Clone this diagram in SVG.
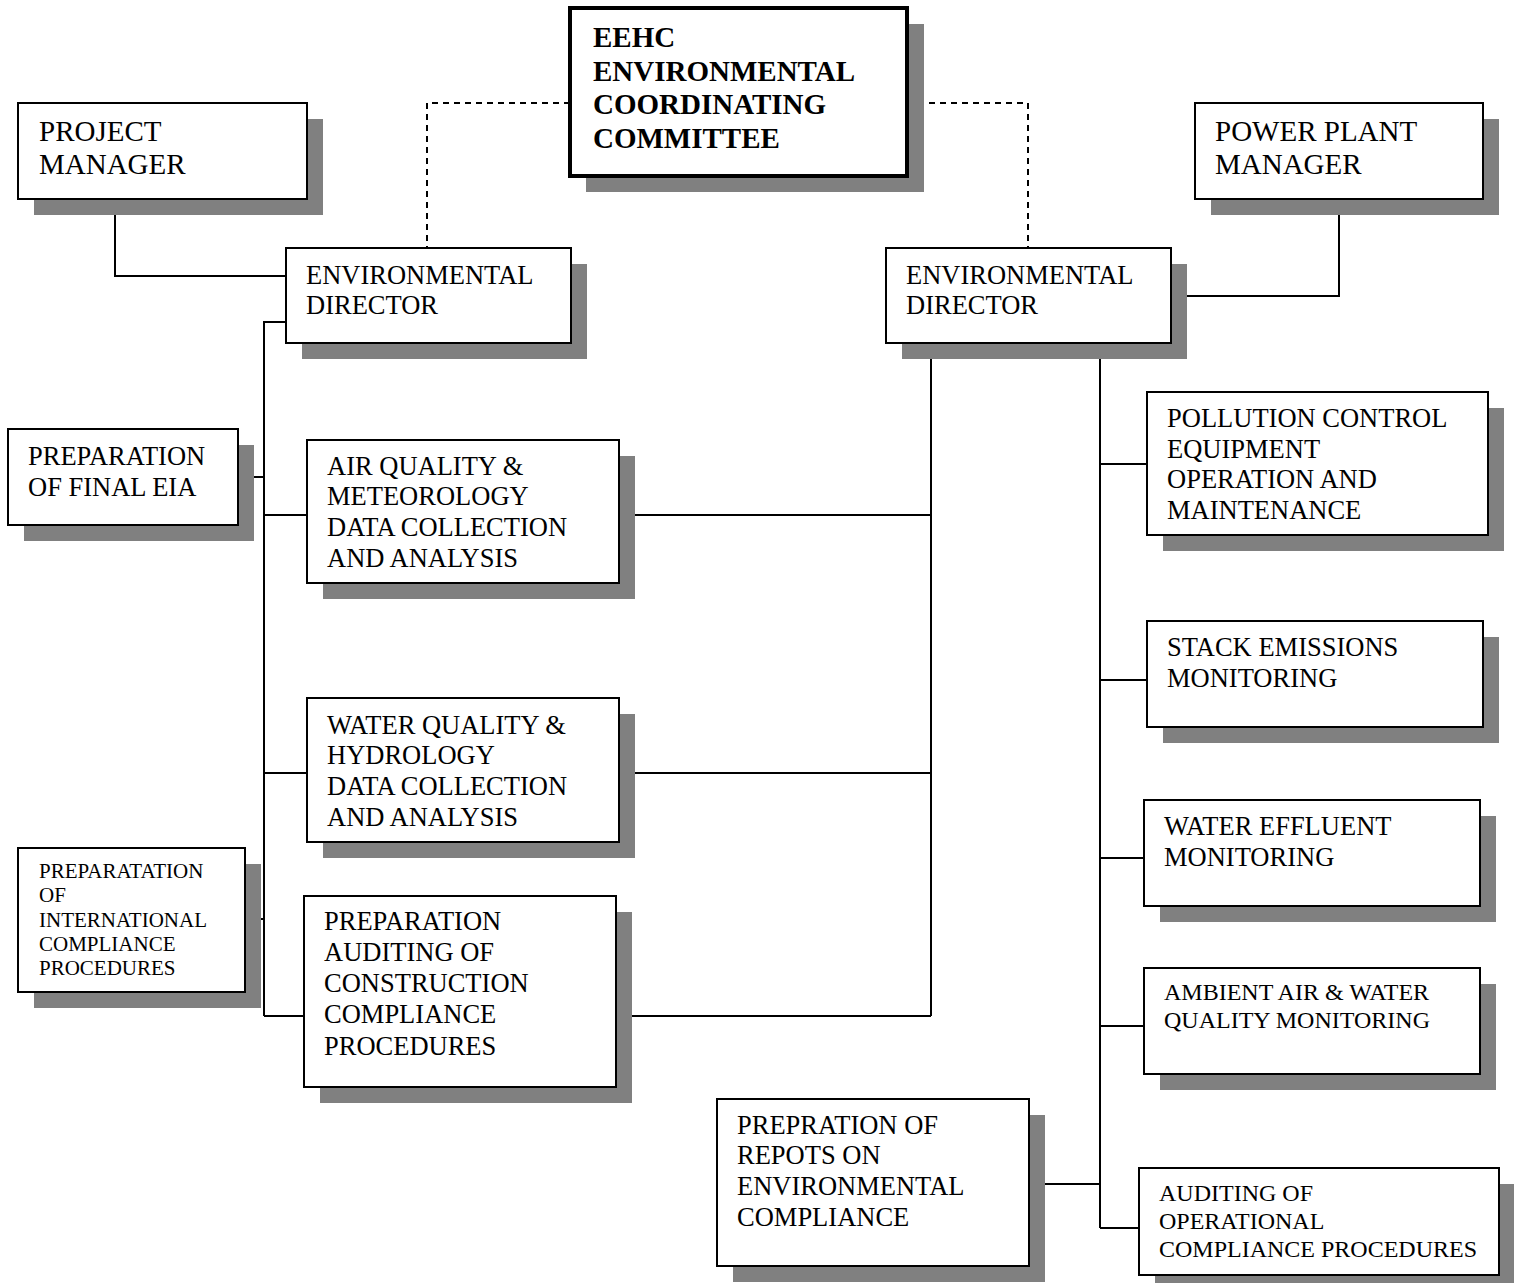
<svg xmlns="http://www.w3.org/2000/svg" width="1514" height="1283" viewBox="0 0 1514 1283">
<style>
.sh{fill:#808080}
.bx{fill:#fff;stroke:#000;stroke-width:2}
.bxb{fill:#fff;stroke:#000;stroke-width:4}
text{font-family:"Liberation Serif","Times New Roman",serif;fill:#000}
.t29{font-size:29px}
.t26{font-size:26.5px}
.t24{font-size:24px}
.t21{font-size:21px}
.b{font-weight:bold;font-size:29px}
.ln{fill:none;stroke:#000;stroke-width:2}
.ds{fill:none;stroke:#000;stroke-width:2;stroke-dasharray:6,5}
</style>
<rect width="1514" height="1283" fill="#fff"/>
<g id="connectors">
<path class="ds" d="M570,103 H427 V248"/>
<path class="ds" d="M907,103 H1028 V248"/>
<path class="ln" d="M115,199 V276 H286"/>
<path class="ln" d="M286,322 H264 V1016"/>
<path class="ln" d="M238,477 H264"/>
<path class="ln" d="M264,515 H307"/>
<path class="ln" d="M264,773 H307"/>
<path class="ln" d="M245,919 H264"/>
<path class="ln" d="M264,1016 H304"/>
<path class="ln" d="M931,343 V1016"/>
<path class="ln" d="M619,515 H931"/>
<path class="ln" d="M619,773 H931"/>
<path class="ln" d="M616,1016 H931"/>
<path class="ln" d="M1339,199 V296 H1171"/>
<path class="ln" d="M1100,343 V1228"/>
<path class="ln" d="M1100,464 H1147"/>
<path class="ln" d="M1100,680 H1147"/>
<path class="ln" d="M1100,858 H1144"/>
<path class="ln" d="M1100,1026 H1144"/>
<path class="ln" d="M1100,1228 H1139"/>
<path class="ln" d="M1029,1184 H1100"/>
</g>
<g id="eehc">
<rect class="sh" x="586" y="24" width="338" height="168"/>
<rect class="bxb" x="570" y="8" width="337" height="168"/>
<text class="b" x="593" y="47">EEHC</text>
<text class="b" x="593" y="81">ENVIRONMENTAL</text>
<text class="b" x="593" y="114">COORDINATING</text>
<text class="b" x="593" y="148">COMMITTEE</text>
</g>
<g id="project-manager">
<rect class="sh" x="34" y="119" width="289" height="96"/>
<rect class="bx" x="18" y="103" width="289" height="96"/>
<text class="t29" x="39" y="141">PROJECT</text>
<text class="t29" x="39" y="174">MANAGER</text>
</g>
<g id="power-plant-manager">
<rect class="sh" x="1211" y="119" width="288" height="96"/>
<rect class="bx" x="1195" y="103" width="288" height="96"/>
<text class="t29" x="1215" y="141">POWER PLANT</text>
<text class="t29" x="1215" y="174">MANAGER</text>
</g>
<g id="env-director-left">
<rect class="sh" x="302" y="264" width="285" height="95"/>
<rect class="bx" x="286" y="248" width="285" height="95"/>
<text class="t26" x="306" y="284">ENVIRONMENTAL</text>
<text class="t26" x="306" y="314">DIRECTOR</text>
</g>
<g id="env-director-right">
<rect class="sh" x="902" y="264" width="285" height="95"/>
<rect class="bx" x="886" y="248" width="285" height="95"/>
<text class="t26" x="906" y="284">ENVIRONMENTAL</text>
<text class="t26" x="906" y="314">DIRECTOR</text>
</g>
<g id="final-eia">
<rect class="sh" x="24" y="445" width="230" height="96"/>
<rect class="bx" x="8" y="429" width="230" height="96"/>
<text class="t26" x="28" y="465">PREPARATION</text>
<text class="t26" x="28" y="496">OF FINAL EIA</text>
</g>
<g id="air-quality">
<rect class="sh" x="323" y="456" width="312" height="143"/>
<rect class="bx" x="307" y="440" width="312" height="143"/>
<text class="t26" x="327" y="475">AIR QUALITY &amp;</text>
<text class="t26" x="327" y="505">METEOROLOGY</text>
<text class="t26" x="327" y="536">DATA COLLECTION</text>
<text class="t26" x="327" y="567">AND ANALYSIS</text>
</g>
<g id="water-quality">
<rect class="sh" x="323" y="714" width="312" height="144"/>
<rect class="bx" x="307" y="698" width="312" height="144"/>
<text class="t26" x="327" y="734">WATER QUALITY &amp;</text>
<text class="t26" x="327" y="764">HYDROLOGY</text>
<text class="t26" x="327" y="795">DATA COLLECTION</text>
<text class="t26" x="327" y="826">AND ANALYSIS</text>
</g>
<g id="international-compliance">
<rect class="sh" x="34" y="864" width="227" height="144"/>
<rect class="bx" x="18" y="848" width="227" height="144"/>
<text class="t21" x="39" y="878">PREPARATATION</text>
<text class="t21" x="39" y="902">OF</text>
<text class="t21" x="39" y="927">INTERNATIONAL</text>
<text class="t21" x="39" y="951">COMPLIANCE</text>
<text class="t21" x="39" y="975">PROCEDURES</text>
</g>
<g id="construction-compliance">
<rect class="sh" x="320" y="912" width="312" height="191"/>
<rect class="bx" x="304" y="896" width="312" height="191"/>
<text class="t26" x="324" y="930">PREPARATION</text>
<text class="t26" x="324" y="961">AUDITING OF</text>
<text class="t26" x="324" y="992">CONSTRUCTION</text>
<text class="t26" x="324" y="1023">COMPLIANCE</text>
<text class="t26" x="324" y="1055">PROCEDURES</text>
</g>
<g id="pollution-control">
<rect class="sh" x="1163" y="408" width="341" height="143"/>
<rect class="bx" x="1147" y="392" width="341" height="143"/>
<text class="t26" x="1167" y="427">POLLUTION CONTROL</text>
<text class="t26" x="1167" y="458">EQUIPMENT</text>
<text class="t26" x="1167" y="488">OPERATION AND</text>
<text class="t26" x="1167" y="519">MAINTENANCE</text>
</g>
<g id="stack-emissions">
<rect class="sh" x="1163" y="637" width="336" height="106"/>
<rect class="bx" x="1147" y="621" width="336" height="106"/>
<text class="t26" x="1167" y="656">STACK EMISSIONS</text>
<text class="t26" x="1167" y="687">MONITORING</text>
</g>
<g id="water-effluent">
<rect class="sh" x="1160" y="816" width="336" height="106"/>
<rect class="bx" x="1144" y="800" width="336" height="106"/>
<text class="t26" x="1164" y="835">WATER EFFLUENT</text>
<text class="t26" x="1164" y="866">MONITORING</text>
</g>
<g id="ambient-monitoring">
<rect class="sh" x="1160" y="984" width="336" height="106"/>
<rect class="bx" x="1144" y="968" width="336" height="106"/>
<text class="t24" x="1164" y="1000">AMBIENT AIR &amp; WATER</text>
<text class="t24" x="1164" y="1028">QUALITY MONITORING</text>
</g>
<g id="reports">
<rect class="sh" x="733" y="1115" width="312" height="167"/>
<rect class="bx" x="717" y="1099" width="312" height="167"/>
<text class="t26" x="737" y="1134">PREPRATION OF</text>
<text class="t26" x="737" y="1164">REPOTS ON</text>
<text class="t26" x="737" y="1195">ENVIRONMENTAL</text>
<text class="t26" x="737" y="1226">COMPLIANCE</text>
</g>
<g id="operational-auditing">
<rect class="sh" x="1155" y="1184" width="360" height="107"/>
<rect class="bx" x="1139" y="1168" width="360" height="107"/>
<text class="t24" x="1159" y="1201">AUDITING OF</text>
<text class="t24" x="1159" y="1229">OPERATIONAL</text>
<text class="t24" x="1159" y="1257">COMPLIANCE PROCEDURES</text>
</g>
</svg>
